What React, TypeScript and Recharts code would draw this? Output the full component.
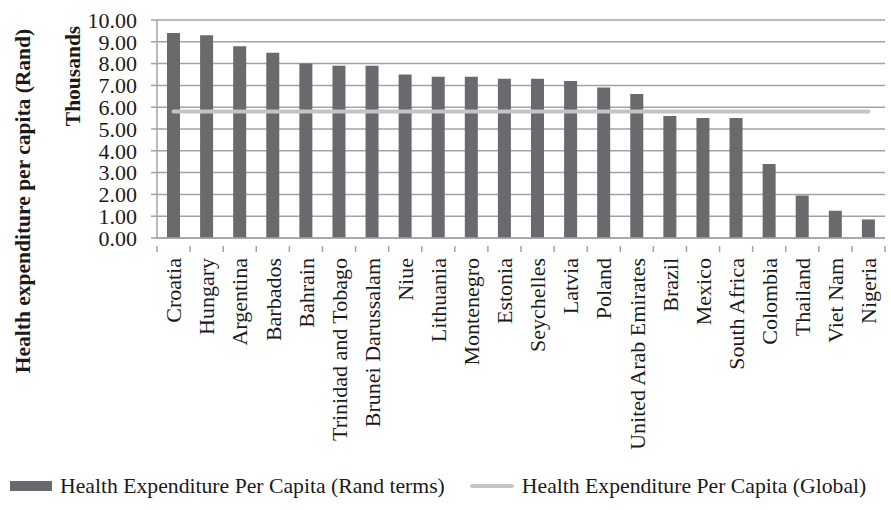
import React from "react";
import {
  ComposedChart,
  Bar,
  Line,
  XAxis,
  YAxis,
  CartesianGrid,
} from "recharts";

const countries = [
  "Croatia",
  "Hungary",
  "Argentina",
  "Barbados",
  "Bahrain",
  "Trinidad and Tobago",
  "Brunei Darussalam",
  "Niue",
  "Lithuania",
  "Montenegro",
  "Estonia",
  "Seychelles",
  "Latvia",
  "Poland",
  "United Arab Emirates",
  "Brazil",
  "Mexico",
  "South Africa",
  "Colombia",
  "Thailand",
  "Viet Nam",
  "Nigeria",
];

// thousands of Rand
const randTerms = [
  9.4, 9.3, 8.8, 8.5, 8.0, 7.9, 7.9, 7.5, 7.4, 7.4, 7.3, 7.3, 7.2, 6.9, 6.6,
  5.6, 5.5, 5.5, 3.4, 1.95, 1.25, 0.85,
];

const globalAverage = 5.8;

const yTicks = [0, 1, 2, 3, 4, 5, 6, 7, 8, 9, 10];

const data = countries.map((name, i) => ({
  name,
  rand: randTerms[i],
  global: globalAverage,
}));

const FONT = "'Liberation Serif', 'Times New Roman', serif";
const GRID = "#a3a3a3";
const BAR = "#6a6a6e";
const LINE = "#c4c4c6";

function CategoryTick(props: any) {
  const { x, y, payload, index } = props;
  const half = payload.offset || 0;
  return (
    <g>
      <line x1={x - half} y1={y} x2={x - half} y2={y + 6} stroke={GRID} strokeWidth={1.5} />
      {index === countries.length - 1 && (
        <line x1={x + half} y1={y} x2={x + half} y2={y + 6} stroke={GRID} strokeWidth={1.5} />
      )}
      <text
        transform={`translate(${x},${y + 12}) rotate(-90)`}
        textAnchor="end"
        dy="0.35em"
        fontFamily={FONT}
        fontSize={22}
        fill="#1a1a1a"
      >
        {payload.value}
      </text>
    </g>
  );
}

function AxisTitles() {
  return (
    <g fontFamily={FONT} fontWeight="bold" fill="#1a1a1a">
      <text
        transform="translate(22,201) rotate(-90)"
        textAnchor="middle"
        dy="0.35em"
        fontSize={21.5}
      >
        Health expenditure per capita (Rand)
      </text>
      <text
        transform="translate(72,76) rotate(-90)"
        textAnchor="middle"
        dy="0.35em"
        fontSize={21.5}
      >
        Thousands
      </text>
    </g>
  );
}

export default function App() {
  return (
    <div
      style={{
        position: "absolute",
        left: 0,
        top: 0,
        width: 891,
        height: 510,
        background: "#fff",
      }}
    >
      <ComposedChart
        width={891}
        height={510}
        data={data}
        margin={{ top: 20, right: 6, left: 0, bottom: 0 }}
      >
        <CartesianGrid horizontal vertical={false} stroke={GRID} strokeWidth={1.5} />
        <XAxis
          dataKey="name"
          interval={0}
          height={272}
          axisLine={{ stroke: GRID, strokeWidth: 1.5 }}
          tickLine={false}
          tick={<CategoryTick />}
        />
        <YAxis
          domain={[0, 10]}
          ticks={yTicks}
          interval={0}
          width={157}
          axisLine={{ stroke: GRID, strokeWidth: 1.5 }}
          tickLine={{ stroke: GRID, strokeWidth: 1.5 }}
          tickSize={6}
          tickMargin={14}
          tickFormatter={(v: number) => v.toFixed(2)}
          tick={{ fontFamily: FONT, fontSize: 22, fill: "#1a1a1a" }}
        />
        <Bar dataKey="rand" fill={BAR} barSize={13} isAnimationActive={false} />
        <Line
          dataKey="global"
          stroke={LINE}
          strokeWidth={4}
          strokeLinecap="round"
          dot={false}
          activeDot={false}
          isAnimationActive={false}
        />
        <AxisTitles />
      </ComposedChart>
      <div
        style={{
          position: "absolute",
          top: 472,
          left: 10,
          height: 28,
          display: "flex",
          alignItems: "center",
          fontFamily: FONT,
          fontSize: 21.7,
          color: "#1a1a1a",
          whiteSpace: "nowrap",
        }}
      >
        <span style={{ display: "inline-block", width: 42, height: 10, background: BAR, marginRight: 8 }} />
        <span>Health Expenditure Per Capita (Rand terms)</span>
        <span
          style={{
            display: "inline-block",
            width: 44,
            height: 4,
            borderRadius: 2,
            background: LINE,
            marginLeft: 25,
            marginRight: 8,
          }}
        />
        <span>Health Expenditure Per Capita (Global)</span>
      </div>
    </div>
  );
}
